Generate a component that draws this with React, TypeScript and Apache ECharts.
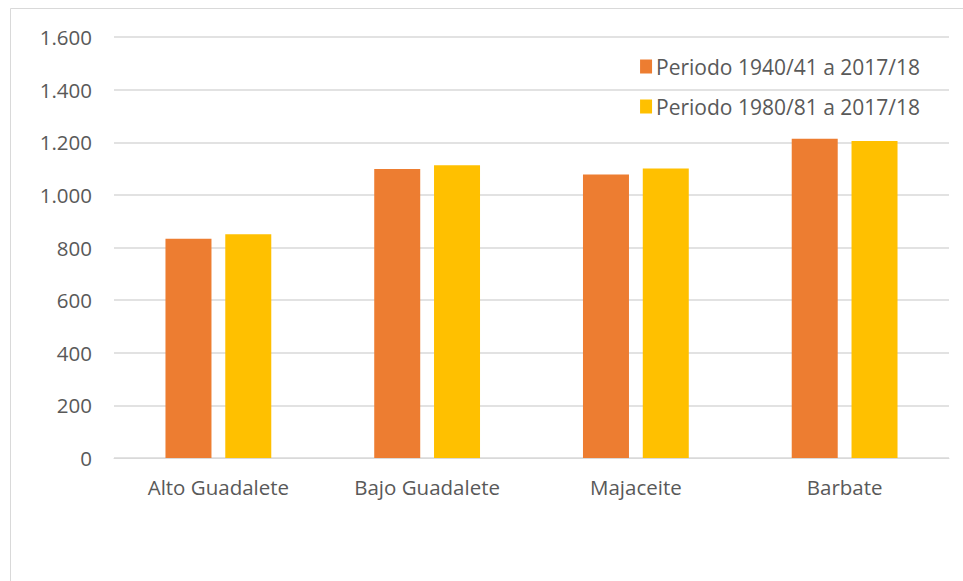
import React, { useEffect, useRef } from "react";
import * as echarts from "echarts";

const categories = ["Alto Guadalete", "Bajo Guadalete", "Majaceite", "Barbate"];
const serie1Name = "Periodo 1940/41 a 2017/18";
const serie2Name = "Periodo 1980/81 a 2017/18";
const serie1 = [833, 1098, 1077, 1213];
const serie2 = [850, 1113, 1100, 1205];

const FONT = "'Open Sans', sans-serif";
const TEXT = "#595959";

export default function App() {
  const ref = useRef<HTMLDivElement>(null);
  useEffect(() => {
    const chart = echarts.init(ref.current!, null, { renderer: "svg" });
    chart.setOption({
      animation: false,
      backgroundColor: "#ffffff",
      textStyle: { fontFamily: FONT },
      graphic: [
        {
          type: "rect",
          shape: { x: 10.5, y: 8.5, width: 970, height: 600 },
          style: { fill: "none", stroke: "#d9d9d9", lineWidth: 1 },
          silent: true,
        },
      ],
      grid: { left: 114, right: 14, top: 37, bottom: 123, containLabel: false },
      legend: {
        orient: "vertical",
        right: 38,
        top: 51,
        itemWidth: 12,
        itemHeight: 14,
        itemGap: 19,
        itemStyle: { borderWidth: 0 },
        icon: "rect",
        textStyle: { fontFamily: FONT, fontSize: 21, color: TEXT, padding: [0, 0, 0, -1] },
        data: [serie1Name, serie2Name],
      },
      xAxis: {
        type: "category",
        data: categories,
        axisLine: { show: true, lineStyle: { color: "#d9d9d9", width: 1 } },
        axisTick: { show: false },
        axisLabel: { fontFamily: FONT, fontSize: 20.5, color: TEXT, margin: 18 },
      },
      yAxis: {
        type: "value",
        min: 0,
        max: 1600,
        interval: 200,
        axisLine: { show: false },
        axisTick: { show: false },
        splitLine: { lineStyle: { color: "#d9d9d9", width: 1.5 } },
        axisLabel: {
          fontFamily: FONT,
          fontSize: 20.5,
          color: TEXT,
          margin: 22,
          formatter: (v: number) => v.toString().replace(/\B(?=(\d{3})+(?!\d))/g, "."),
        },
      },
      series: [
        {
          name: serie1Name,
          type: "bar",
          data: serie1,
          itemStyle: { color: "#ED7D31" },
          barWidth: 46,
          barGap: "30%",
        },
        {
          name: serie2Name,
          type: "bar",
          data: serie2,
          itemStyle: { color: "#FFC000" },
          barWidth: 46,
          barGap: "30%",
        },
      ],
    });
    return () => chart.dispose();
  }, []);
  return (
    <div
      ref={ref}
      style={{ position: "fixed", left: 0, top: 0, width: 963, height: 581 }}
    />
  );
}
